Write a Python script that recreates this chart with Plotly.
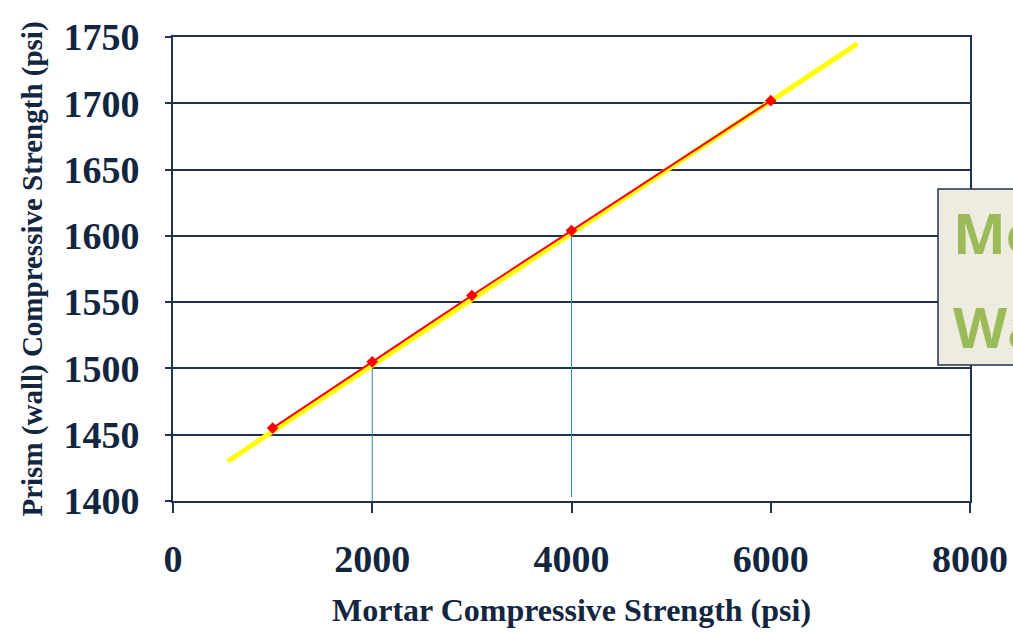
import plotly.graph_objects as go

# Data
mortar_x = [1000, 2000, 3000, 4000, 6000]
prism_y = [1455, 1505, 1555, 1604, 1702]
trend_x = [550, 6870]
trend_y = [1430, 1745]
drop_x = [2000, 4000]
drop_top = [1505, 1604]
drop_bottom = [1400, 1403]
x_ticks = [0, 2000, 4000, 6000, 8000]
y_ticks = [1400, 1450, 1500, 1550, 1600, 1650, 1700, 1750]

navy = "#13263F"
grid = "#1F3350"

fig = go.Figure()

for xv, y0, y1 in zip(drop_x, drop_bottom, drop_top):
    fig.add_trace(go.Scatter(x=[xv, xv], y=[y0, y1], mode="lines",
                             line=dict(color="#2E86A0", width=1), showlegend=False,
                             hoverinfo="skip"))

fig.add_trace(go.Scatter(x=trend_x, y=trend_y, mode="lines",
                         line=dict(color="#FFFF00", width=5), showlegend=False))

fig.add_trace(go.Scatter(x=mortar_x, y=prism_y, mode="lines+markers",
                         line=dict(color="#FF0000", width=2, shape="spline", smoothing=0.6),
                         marker=dict(symbol="diamond", size=9, color="#FF0000"),
                         showlegend=False))

# Partially visible text box on the right
fig.add_shape(type="rect", xref="paper", yref="paper",
              x0=(938 - 173) / 797, x1=(1030 - 173) / 797,
              y0=(501 - 365) / 464, y1=(501 - 189) / 464,
              line=dict(color=grid, width=1.5), fillcolor="#EEEBE1", layer="above")
fig.add_annotation(xref="paper", yref="paper", x=(951 - 173) / 797, y=(501 - 232) / 464,
                   text="<b>Mortar</b>", showarrow=False, xanchor="left", yanchor="middle",
                   font=dict(family="Open Sans", size=56, color="#9BBB59"))
fig.add_annotation(xref="paper", yref="paper", x=(951 - 173) / 797, y=(501 - 326) / 464,
                   text="<b>Wall</b>", showarrow=False, xanchor="left", yanchor="middle",
                   font=dict(family="Open Sans", size=56, color="#9BBB59"))

fig.update_layout(
    width=1013, height=633,
    margin=dict(l=173, r=43, t=37, b=132),
    paper_bgcolor="white", plot_bgcolor="white",
    font=dict(family="Liberation Serif", color=navy),
    xaxis=dict(range=[0, 8000], tickvals=x_ticks, showgrid=False, zeroline=False,
               showline=True, linecolor=grid, linewidth=2, mirror=True, automargin=False,
               ticks="outside", ticklen=10, tickcolor=grid, tickwidth=2,
               tickfont=dict(family="Liberation Serif", size=38, color=navy, weight="bold"),
               ticklabelstandoff=13,
               title=dict(text="<b>Mortar Compressive Strength (psi)</b>",
                          font=dict(family="Liberation Serif", size=32, color=navy),
                          standoff=20)),
    yaxis=dict(range=[1400, 1750], tickvals=y_ticks, showgrid=True, gridcolor=grid,
               gridwidth=2, zeroline=False, showline=True, linecolor=grid, linewidth=2,
               mirror=True, automargin=False, ticks="outside", ticklen=6, tickcolor=grid,
               tickwidth=2,
               tickfont=dict(family="Liberation Serif", size=38, color=navy, weight="bold"),
               ticklabelstandoff=18,
               title=dict(text="<b>Prism (wall) Compressive Strength (psi)</b>",
                          font=dict(family="Liberation Serif", size=29, color=navy),
                          standoff=12)),
)

fig.write_html("out.html", config={"displayModeBar": False},
               post_script="document.body.style.margin='0';")
